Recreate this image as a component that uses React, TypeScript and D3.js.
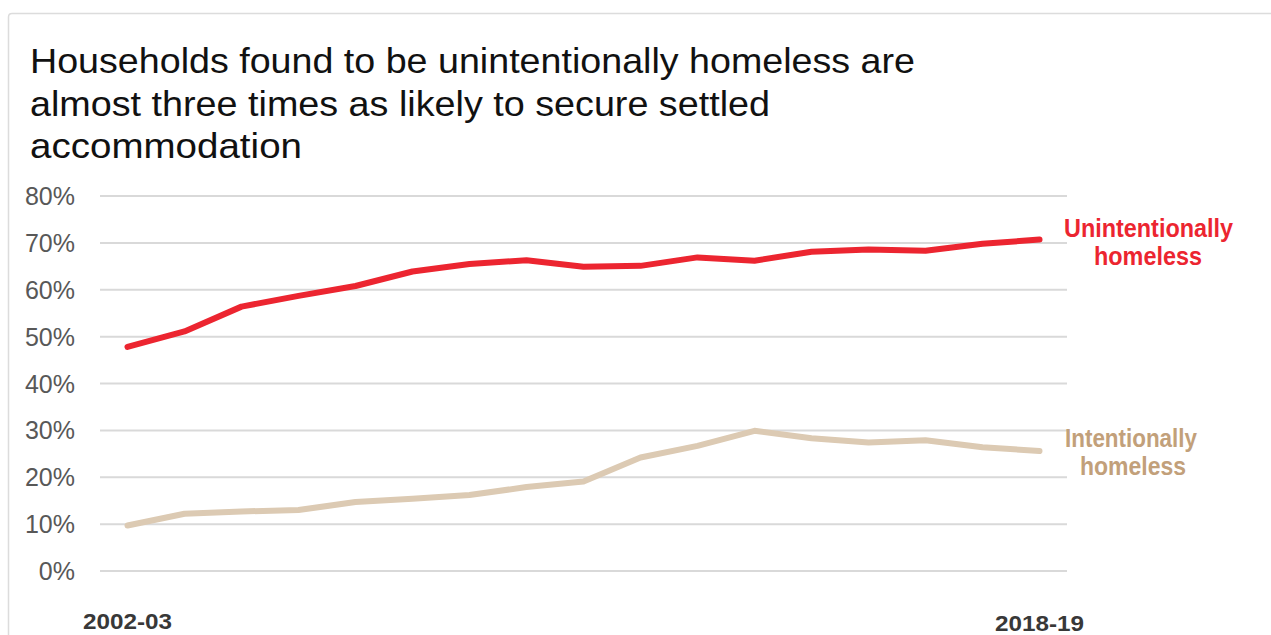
import React from "react";
import * as d3 from "d3";

const years = ["2002-03","2003-04","2004-05","2005-06","2006-07","2007-08","2008-09","2009-10","2010-11","2011-12","2012-13","2013-14","2014-15","2015-16","2016-17","2017-18","2018-19"];
const unintentional = [47.8,51.1,56.4,58.7,60.8,63.9,65.5,66.3,64.9,65.1,66.9,66.2,68.1,68.6,68.3,69.8,70.7];
const intentional = [9.7,12.2,12.7,13.0,14.7,15.4,16.2,17.9,19.1,24.2,26.7,29.9,28.3,27.4,27.9,26.4,25.6];
const yTicks = [0,10,20,30,40,50,60,70,80];
const xLabels = ["2002-03","2018-19"];
const titleLines = [
  "Households found to be unintentionally homeless are",
  "almost three times as likely to secure settled",
  "accommodation",
];

const W = 1271, H = 635;
const font = "'Liberation Sans', Arial, Helvetica, sans-serif";
const titleWidths = [885, 740, 272];

export default function App() {
  const x = d3.scalePoint<string>().domain(years).range([127.5, 1039.5]);
  const y = d3.scaleLinear().domain([0, 80]).range([571, 196]);
  const line = (vals: number[]) =>
    d3.line<number>().x((_, i) => x(years[i])!).y((v) => y(v)).curve(d3.curveLinear)(vals)!;

  return (
    <svg width={W} height={H} style={{ position: "absolute", left: 0, top: 0, background: "#fff" }}>
      <path d={`M8.5,${H} L8.5,17 Q8.5,13.5 12,13.5 L${W},13.5`} fill="none" stroke="#dcdcdc" strokeWidth={1.5} />
      {titleLines.map((t, i) => (
        <text key={i} x={30} y={73 + i * 42.5} fontFamily={font} fontSize={35} fill="#111"
          textLength={titleWidths[i]} lengthAdjust="spacingAndGlyphs">{t}</text>
      ))}
      {yTicks.map((t) => (
        <g key={t}>
          <line x1={100} x2={1067} y1={y(t)} y2={y(t)} stroke="#d9d9d9" strokeWidth={2} />
          <text x={75} y={y(t) + 9} textAnchor="end" fontFamily={font} fontSize={25} fill="#585858">{t}%</text>
        </g>
      ))}
      <path d={line(intentional)} fill="none" stroke="#dccab3" strokeWidth={6} strokeLinecap="round" strokeLinejoin="round" />
      <path d={line(unintentional)} fill="none" stroke="#ec2530" strokeWidth={6} strokeLinecap="round" strokeLinejoin="round" />
      <text fontFamily={font} fontSize={25} fontWeight="bold" fill="#ec2530" textAnchor="middle">
        <tspan x={1148.5} y={237} textLength={169} lengthAdjust="spacingAndGlyphs">Unintentionally</tspan>
        <tspan x={1148} y={265} textLength={108} lengthAdjust="spacingAndGlyphs">homeless</tspan>
      </text>
      <text fontFamily={font} fontSize={25} fontWeight="bold" fill="#c2a07a" textAnchor="middle">
        <tspan x={1131} y={447} textLength={132} lengthAdjust="spacingAndGlyphs">Intentionally</tspan>
        <tspan x={1133} y={475} textLength={106} lengthAdjust="spacingAndGlyphs">homeless</tspan>
      </text>
      {xLabels.map((l, i) => (
        <text key={l} x={x(l)} y={i === 0 ? 629 : 631} textAnchor="middle" fontFamily={font} fontSize={22}
          fontWeight="bold" fill="#383838" textLength={89} lengthAdjust="spacingAndGlyphs">{l}</text>
      ))}
    </svg>
  );
}
